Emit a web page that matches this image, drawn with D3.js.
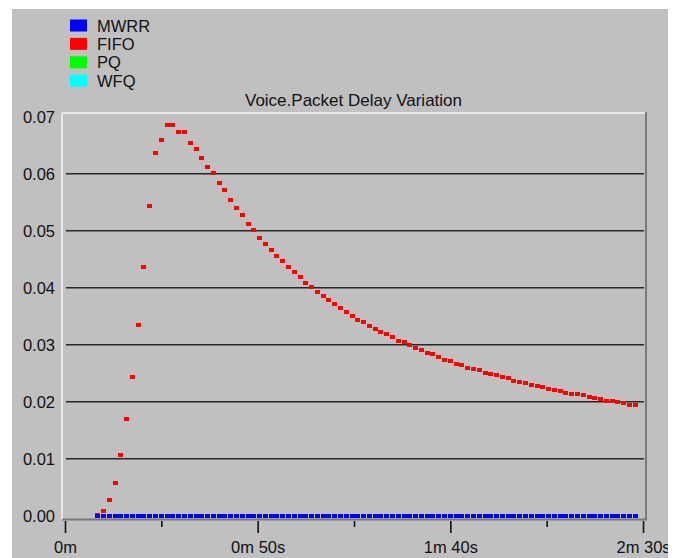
<html>
<head>
<meta charset="utf-8">
<title>Voice.Packet Delay Variation</title>
<style>
body { margin: 0; background: #fff; }
svg { display: block; }
text { font-family: "Liberation Sans", Arial, sans-serif; fill: #111; }
</style>
</head>
<body>
<script src="https://cdn.jsdelivr.net/npm/d3@7"></script>
<script>
 // sample times in seconds, one sample every 1.5s
 var times = [
   8.5,10,11.5,13,14.5,16,17.5,19,20.5,22,
   23.5,25,26.5,28,29.5,31,32.5,34,35.5,37,
   38.5,40,41.5,43,44.5,46,47.5,49,50.5,52,
   53.5,55,56.5,58,59.5,61,62.5,64,65.5,67,
   68.5,70,71.5,73,74.5,76,77.5,79,80.5,82,
   83.5,85,86.5,88,89.5,91,92.5,94,95.5,97,
   98.5,100,101.5,103,104.5,106,107.5,109,110.5,112,
   113.5,115,116.5,118,119.5,121,122.5,124,125.5,127,
   128.5,130,131.5,133,134.5,136,137.5,139,140.5,142,
   143.5,145,146.5,148
 ];

 var fifo = [
   0.0001,0.0009,0.0028,0.0057,0.0106,0.0169,0.0244,0.0335,0.0437,0.0544,
   0.0637,0.0660,0.0686,0.0686,0.0674,0.0674,0.0653,0.0644,0.0628,0.0611,
   0.0602,0.0583,0.0571,0.0553,0.0539,0.0528,0.0512,0.0502,0.0488,0.0477,
   0.0467,0.0456,0.0446,0.0437,0.0428,0.0418,0.0409,0.0402,0.0392,0.0385,
   0.0378,0.0371,0.0365,0.0358,0.0351,0.0344,0.0339,0.0332,0.0328,0.0323,
   0.0318,0.0314,0.0307,0.0304,0.0299,0.0295,0.0291,0.0285,0.0283,0.0279,
   0.0274,0.0271,0.0267,0.0265,0.0260,0.0257,0.0255,0.0251,0.0249,0.0246,
   0.0244,0.0242,0.0237,0.0235,0.0232,0.0230,0.0228,0.0225,0.0223,0.0221,
   0.0218,0.0216,0.0214,0.0214,0.0211,0.0209,0.0206,0.0204,0.0202,0.0202,
   0.0200,0.0198,0.0195,0.0195
 ];

 var mwrr = [
   0,0,0,0,0,0,0,0,0,0, 0,0,0,0,0,0,0,0,0,0,
   0,0,0,0,0,0,0,0,0,0, 0,0,0,0,0,0,0,0,0,0,
   0,0,0,0,0,0,0,0,0,0, 0,0,0,0,0,0,0,0,0,0,
   0,0,0,0,0,0,0,0,0,0, 0,0,0,0,0,0,0,0,0,0,
   0,0,0,0,0,0,0,0,0,0, 0,0,0,0
 ];

 var legendNames = ['MWRR', 'FIFO', 'PQ', 'WFQ'];
 var legendColors = ['#0000ff', '#ff0000', '#00ff00', '#00ffff'];
 var yTicks = [0, 0.01, 0.02, 0.03, 0.04, 0.05, 0.06, 0.07];
 var xMajor = [0, 50, 100, 150];
 var xMinor = [25, 75, 125];
 var title = 'Voice.Packet Delay Variation';

 var W = 678, H = 558;

 var svg = d3.select('body').append('svg')
     .attr('width', W)
     .attr('height', H);

 svg.append('clipPath').attr('id', 'panel')
   .append('rect').attr('x', 12).attr('y', 9).attr('width', 656).attr('height', 549);

 var root = svg.append('g').attr('clip-path', 'url(#panel)');

 root.append('rect')
     .attr('x', 12).attr('y', 9)
     .attr('width', 656).attr('height', 549)
     .attr('fill', '#c0c0c0');

 var x = d3.scaleLinear().domain([0, 150]).range([65, 643]);
 var y = d3.scaleLinear().domain([0, 0.07]).range([515.7, 116.7]);

 // legend
 var leg = root.selectAll('g.leg')
     .data(legendNames)
   .enter().append('g')
     .attr('class', 'leg')
     .attr('transform', function(d, i) { return 'translate(0,' + (31.5 + i * 18.4) + ')'; });
 leg.append('rect')
     .attr('x', 70).attr('y', -12)
     .attr('width', 17).attr('height', 12)
     .attr('fill', function(d, i) { return legendColors[i]; });
 leg.append('text')
     .attr('x', 97).attr('y', 0)
     .style('font-size', '16.5px')
     .text(function(d) { return d; });

 root.append('text')
     .attr('x', 353.5).attr('y', 106)
     .attr('text-anchor', 'middle')
     .style('font-size', '17px')
     .text(title);

 // plot frame, sunken look
 root.append('line').attr('x1', 62).attr('y1', 113).attr('x2', 646).attr('y2', 113)
     .attr('stroke', '#e8e8e8').attr('stroke-width', 2);
 root.append('line').attr('x1', 62).attr('y1', 113).attr('x2', 62).attr('y2', 520)
     .attr('stroke', '#e8e8e8').attr('stroke-width', 2);
 root.append('line').attr('x1', 646).attr('y1', 112).attr('x2', 646).attr('y2', 520)
     .attr('stroke', '#7a7a7a').attr('stroke-width', 2);
 root.append('line').attr('x1', 62).attr('y1', 519.5).attr('x2', 647).attr('y2', 519.5)
     .attr('stroke', '#7a7a7a').attr('stroke-width', 2);

 // grid lines
 root.selectAll('line.grid')
     .data(yTicks.filter(function(d) { return d > 0 && d < 0.07; }))
   .enter().append('line')
     .attr('class', 'grid')
     .attr('x1', 66).attr('x2', 644)
     .attr('y1', function(d) { return y(d); })
     .attr('y2', function(d) { return y(d); })
     .attr('stroke', '#262626')
     .attr('stroke-width', 1.6);

 // y axis labels
 var yAxis = d3.axisLeft(y)
     .tickValues(yTicks)
     .tickSize(0)
     .tickPadding(0)
     .tickFormat(d3.format('.2f'));
 var gy = root.append('g').attr('transform', 'translate(55,0)').call(yAxis);
 gy.select('.domain').remove();
 gy.selectAll('text')
     .attr('x', 0).attr('dy', '0.36em')
     .style('font-size', '16.5px')
     .style('font-family', '"Liberation Sans", Arial, sans-serif')
     .attr('fill', '#111');

 // x axis
 function fmtTime(t) {
   var m = Math.floor(t / 60), s = t % 60;
   if (m == 0 && s == 0) return '0m';
   return m + 'm ' + s + 's';
 }
 var xAxis = d3.axisBottom(x)
     .tickValues(xMajor)
     .tickSize(12)
     .tickFormat(fmtTime);
 var gx = root.append('g').attr('transform', 'translate(0,521)').call(xAxis);
 gx.select('.domain').remove();
 gx.selectAll('.tick line').attr('stroke', '#111').attr('stroke-width', 1.6);
 gx.selectAll('text')
     .attr('y', 32).attr('dy', null)
     .style('font-size', '16.5px')
     .style('font-family', '"Liberation Sans", Arial, sans-serif')
     .attr('fill', '#111');

 var xMinorAxis = d3.axisBottom(x)
     .tickValues(xMinor)
     .tickSize(6)
     .tickFormat('');
 var gxm = root.append('g').attr('transform', 'translate(0,521)').call(xMinorAxis);
 gxm.select('.domain').remove();
 gxm.selectAll('.tick line').attr('stroke', '#111').attr('stroke-width', 1.6);

 // points
 var fifoPts = times.map(function(t, i) { return {t: t, v: fifo[i]}; });
 var mwrrPts = times.map(function(t, i) { return {t: t, v: mwrr[i]}; });

 root.append('g').selectAll('rect')
     .data(fifoPts)
   .enter().append('rect')
     .attr('x', function(d) { return Math.round(x(d.t) - 2.5); })
     .attr('y', function(d) { return Math.round(y(d.v) - 2); })
     .attr('width', 5).attr('height', 4)
     .attr('shape-rendering', 'crispEdges')
     .attr('fill', '#ff0000');

 root.append('g').selectAll('rect')
     .data(mwrrPts)
   .enter().append('rect')
     .attr('x', function(d) { return Math.round(x(d.t) - 2.5); })
     .attr('y', function(d) { return Math.round(y(d.v) - 2); })
     .attr('width', 5).attr('height', 4)
     .attr('shape-rendering', 'crispEdges')
     .attr('fill', '#0000ff');
</script>
</body>
</html>
